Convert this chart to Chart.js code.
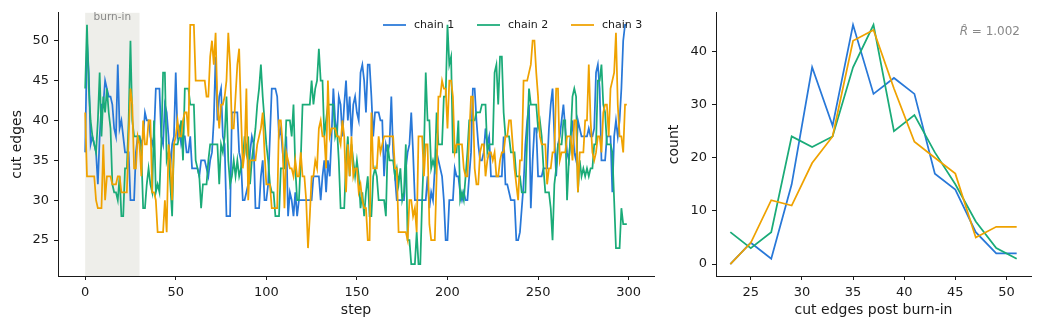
<!DOCTYPE html>
<html><head><meta charset="utf-8">
<script src="https://cdn.jsdelivr.net/npm/chart.js@4.4.1/dist/chart.umd.min.js"></script>
<style>
html,body{margin:0;padding:0;background:#fff;}
#wrap{position:relative;width:1039px;height:330px;overflow:hidden;}
#c1{position:absolute;left:0;top:0;}
#c2{position:absolute;left:660px;top:0;}
</style></head><body>
<div id="wrap">
<canvas id="c1" width="660" height="330"></canvas>
<canvas id="c2" width="379" height="330"></canvas>
</div>
<script>
// ---------- data ----------
const chainLabels = ['chain 1', 'chain 2', 'chain 3'];
const chain1 = [
36,50,46,37,38,37,36,32,38,42, 42,45,44,43,43,42,39,38,47,39, 40,38,36,36,36,30,30,30,36,38,
38,37,38,41,40,40,38,37,38,44, 44,44,38,37,42,41,38,34,37,38, 46,38,39,37,38,38,36,36,38,34,
34,34,34,33,35,35,35,34,33,35, 36,40,48,40,43,44,38,37,28,28, 28,41,41,41,41,36,35,30,30,31,
32,36,38,37,29,29,29,33,35,30, 30,32,38,44,44,44,43,38,39,36, 34,38,28,31,30,28,31,28,30,30,
30,30,30,30,30,30,33,33,33,33, 30,33,35,31,35,33,38,44,40,38, 43,42,38,42,45,40,43,38,42,43,
41,40,46,47,45,41,47,47,43,38, 41,41,41,40,40,33,37,36,37,43, 36,33,30,30,30,30,30,34,36,37,
41,36,30,30,30,30,30,30,30,33, 29,31,30,34,36,35,34,33,30,25, 25,30,30,30,34,33,33,31,30,31,
30,30,33,36,44,44,40,37,35,35, 36,39,37,38,33,33,33,33,33,33, 33,38,32,32,31,30,30,30,25,25,
26,29,32,37,40,42,29,35,39,39, 33,33,33,34,34,34,39,42,44,38, 33,37,38,40,42,39,36,35,38,40,
36,35,40,39,38,38,38,38,39,38, 38,39,46,47,44,35,35,35,38,38, 38,31,38,40,38,40,44,50,52,52
];
const chain2 = [
44,52,44,40,38,37,36,40,46,38, 43,41,44,41,39,32,31,31,30,33, 28,28,34,34,40,50,40,38,38,38,
38,36,29,29,32,34,32,31,40,31, 32,31,37,46,46,35,36,32,28,37, 37,37,38,40,35,44,44,44,42,42,
42,35,34,33,29,32,32,32,35,37, 37,37,37,37,32,37,36,38,43,35, 32,33,35,33,35,33,34,35,38,36,
38,32,35,37,39,42,44,47,43,40, 37,35,32,31,31,28,28,28,34,34, 34,40,40,40,38,42,34,30,30,35,
42,42,42,42,42,45,42,44,45,49, 45,45,38,40,42,42,42,42,38,39, 35,29,29,29,35,38,33,37,35,33,
35,33,29,31,28,31,33,28,28,33, 34,33,30,30,30,30,28,37,35,35, 35,33,34,32,34,30,31,37,25,25,
22,22,22,26,22,22,30,36,46,40, 40,34,35,34,41,37,37,37,43,43, 52,47,48,36,36,36,40,30,31,30,
33,36,40,40,40,40,41,41,41,42, 42,42,36,37,37,37,46,47,42,48, 48,41,38,38,38,36,36,36,33,33,
33,31,31,31,38,44,42,42,42,42, 39,40,38,34,31,31,31,29,25,32, 34,37,37,37,40,40,30,35,38,43,
44,43,31,35,33,34,33,34,33,34, 34,37,37,45,45,47,42,41,37,37, 37,36,30,24,24,24,29,27,27,27
];
const chain3 = [
41,33,33,33,33,33,30,29,29,29, 37,30,33,33,33,32,32,32,33,33, 31,31,31,31,38,44,42,34,34,38,
37,33,40,37,37,40,40,31,31,30, 26,26,26,26,30,26,37,35,30,37, 38,40,38,38,40,41,41,38,52,52,
52,45,45,45,45,45,45,43,43,48, 50,47,51,42,39,42,42,43,45,51, 47,39,39,43,47,49,41,34,36,44,
30,35,35,35,35,37,38,39,41,36, 32,32,32,29,29,29,29,40,40,37, 29,36,35,34,34,33,35,33,33,36,
33,33,30,24,28,33,33,35,34,39, 40,38,38,34,45,38,39,39,39,38, 38,37,40,38,31,37,33,38,33,34,
34,31,32,30,29,29,25,25,41,34, 34,34,38,36,37,38,38,38,38,38, 38,34,34,26,26,26,26,26,25,30,
30,28,29,26,38,38,38,33,37,37, 27,25,25,25,33,43,43,45,44,44, 39,45,45,43,36,37,37,37,37,34,
33,33,38,43,43,34,32,32,36,37, 37,33,35,36,36,35,36,33,33,35, 36,36,38,38,40,40,37,34,32,30,
35,35,45,45,45,46,47,50,50,46, 43,38,37,37,37,32,34,34,36,36, 44,44,35,36,36,36,38,38,38,35,
40,40,31,36,36,36,40,40,47,40, 36,35,36,38,38,36,41,42,42,38, 44,45,46,51,42,38,38,36,42,42
];
const burnIn = 30;
const stepTicks = [0, 50, 100, 150, 200, 250, 300];
const traceYTicks = [25, 30, 35, 40, 45, 50];

const histBins = [23,25,27,29,31,33,35,37,39,41,43,45,47,49,51];
const hist1 = [0,4,1,15,37,26,45,32,35,32,17,14,6,2,2];
const hist2 = [6,3,6,24,22,24,37,45,25,28,21,15,8,3,1];
const hist3 = [0,4,12,11,19,24,42,44,33,23,20,17,5,7,7];
const histXTicks = [25, 30, 35, 40, 45, 50];
const histYTicks = [0, 10, 20, 30, 40];
const rhatValue = '1.002';

// ---------- style ----------
const COLORS = ['#2878d8', '#1aab78', '#efa200'];
const FONT = "'DejaVu Sans', sans-serif";
const TXT = '#1a1a1a';
const LW = 1.75;
Chart.defaults.font.family = FONT;

function axis(opts) {
  return Object.assign({
    type: 'linear',
    grid: { display: true, drawOnChartArea: false, drawTicks: true, tickLength: 4, color: TXT, tickColor: TXT, tickWidth: 1 },
    border: { display: true, color: TXT, width: 1 },
    ticks: { color: TXT, font: { family: FONT, size: 13 }, padding: 5, maxRotation: 0, autoSkip: false }
  }, opts);
}
function setTicks(list) { return s => { s.ticks = list.map(v => ({ value: v })); }; }

const traceSets = [chain1, chain2, chain3].map((arr, k) => ({
  label: chainLabels[k],
  data: arr.map((v, i) => ({ x: i, y: v })),
  borderColor: COLORS[k], backgroundColor: COLORS[k],
  borderWidth: LW, pointRadius: 0, tension: 0, fill: false,
  order: 3 - k
}));

const burnPlugin = {
  id: 'burn',
  beforeDatasetsDraw(chart) {
    const { ctx, chartArea, scales } = chart;
    const x0 = scales.x.getPixelForValue(0), x1 = scales.x.getPixelForValue(burnIn);
    ctx.save();
    ctx.fillStyle = '#eeeeea';
    ctx.fillRect(x0, chartArea.top, x1 - x0, chartArea.bottom - chartArea.top);
    ctx.fillStyle = '#888888';
    ctx.font = '10.5px ' + FONT;
    ctx.textAlign = 'center';
    ctx.textBaseline = 'middle';
    ctx.fillText('burn-in', (x0 + x1) / 2, chartArea.top + 4.5);
    ctx.restore();
  },
  afterDatasetsDraw(chart) {
    const { ctx } = chart;
    const xs = [383, 477, 571];
    const y = 25;
    ctx.save();
    ctx.font = '11px ' + FONT;
    ctx.textBaseline = 'middle';
    ctx.textAlign = 'left';
    chainLabels.forEach((lab, k) => {
      ctx.strokeStyle = COLORS[k];
      ctx.lineWidth = LW;
      ctx.beginPath();
      ctx.moveTo(xs[k], y); ctx.lineTo(xs[k] + 23, y);
      ctx.stroke();
      ctx.fillStyle = TXT;
      ctx.fillText(lab, xs[k] + 31, y);
    });
    ctx.restore();
  }
};

new Chart(document.getElementById('c1'), {
  type: 'line',
  data: { datasets: traceSets },
  options: {
    responsive: false, animation: false, devicePixelRatio: 1,
    layout: { padding: { top: 10, right: 6, left: 0, bottom: 0 } },
    plugins: { legend: { display: false }, tooltip: { enabled: false } },
    scales: {
      x: axis({ min: -15, max: 314, afterBuildTicks: setTicks(stepTicks), afterFit: s => { s.height = 54; },
        title: { display: true, text: 'step', color: TXT, font: { family: FONT, size: 14 }, padding: { top: 0, bottom: 11 } } }),
      y: axis({ min: 20.5, max: 53.5, afterBuildTicks: setTicks(traceYTicks), afterFit: s => { s.width = 58; },
        title: { display: true, text: 'cut edges', color: TXT, font: { family: FONT, size: 14 }, padding: { top: 9, bottom: 0 } } })
    }
  },
  plugins: [burnPlugin]
});

const histSets = [hist1, hist2, hist3].map((arr, k) => ({
  label: chainLabels[k],
  data: arr.map((v, i) => ({ x: histBins[i], y: v })),
  borderColor: COLORS[k], backgroundColor: COLORS[k],
  borderWidth: LW, pointRadius: 0, tension: 0, fill: false,
  order: 3 - k
}));

const rhatPlugin = {
  id: 'rhat',
  afterDatasetsDraw(chart) {
    const { ctx } = chart;
    ctx.save();
    ctx.fillStyle = '#888888';
    ctx.textBaseline = 'middle';
    ctx.textAlign = 'right';
    ctx.font = '12px ' + FONT;
    const rest = ' = ' + rhatValue;
    const right = 360;
    ctx.fillText(rest, right, 32);
    const w = ctx.measureText(rest).width;
    ctx.font = 'italic 12px ' + FONT;
    ctx.fillText('R\u0302', right - w, 32);
    ctx.restore();
  }
};

new Chart(document.getElementById('c2'), {
  type: 'line',
  data: { datasets: histSets },
  options: {
    responsive: false, animation: false, devicePixelRatio: 1,
    layout: { padding: { top: 10, right: 8, left: 0, bottom: 0 } },
    plugins: { legend: { display: false }, tooltip: { enabled: false } },
    scales: {
      x: axis({ min: 21.6, max: 52.4, afterBuildTicks: setTicks(histXTicks), afterFit: s => { s.height = 54; },
        title: { display: true, text: 'cut edges post burn-in', color: TXT, font: { family: FONT, size: 14 }, padding: { top: 0, bottom: 11 } } }),
      y: axis({ min: -2.25, max: 47.25, afterBuildTicks: setTicks(histYTicks), afterFit: s => { s.width = 56; },
        title: { display: true, text: 'count', color: TXT, font: { family: FONT, size: 14 }, padding: { top: 6, bottom: 0 } } })
    }
  },
  plugins: [rhatPlugin]
});
</script>
</body></html>
